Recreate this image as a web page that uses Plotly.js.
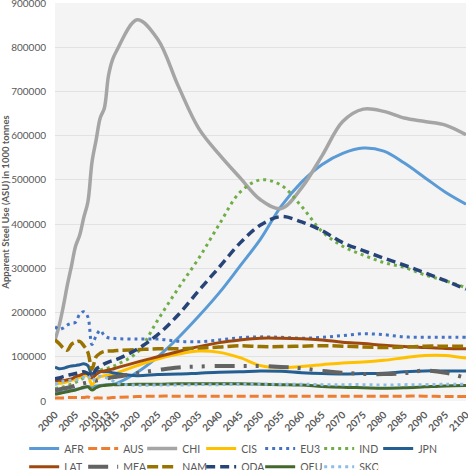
<!DOCTYPE html>
<html>
<head>
<meta charset="utf-8">
<script src="https://cdn.plot.ly/plotly-3.0.1.min.js"></script>
<style>html,body{margin:0;padding:0;background:#fff;}#chart{width:468px;height:470px;}</style>
</head>
<body>
<div id="chart"></div>
<script>
// Years (yearly history, then 5-year projections)
var years = [2000,2001,2002,2003,2004,2005,2006,2007,2008,2009,2010,2011,2012,2013,2014,2015,
             2020,2025,2030,2035,2040,2045,2050,2055,2060,2065,2070,2075,2080,2085,2090,2095,2100];

// Apparent Steel Use, 1000 tonnes
var AFR = [18000,19000,20000,22000,24000,26000,28000,30000,33000,32000,34000,35000,36000,37000,38000,40000,
           65000,100000,143000,192000,245000,305000,366000,440000,495000,535000,560000,572000,565000,538000,505000,472000,445000];
var AUS = [7000,7000,7000,8000,8000,8000,8000,8000,9000,6000,7000,7000,7000,7000,8000,8000,
           10000,11000,11000,11000,11000,11000,11000,11000,11000,11000,11000,11000,11000,11000,11000,10000,10000];
var CHI = [138000,170000,213000,262000,305000,350000,375000,415000,450000,540000,590000,640000,662000,735000,772000,792000,
           862000,818000,712000,616000,557000,505000,455000,435000,482000,555000,632000,660000,655000,640000,632000,624000,602000];
var CIS = [38000,40000,41000,44000,47000,50000,54000,58000,57000,36000,48000,55000,57000,58000,60000,63000,
           80000,95000,106000,113000,110000,98000,80000,75000,78000,82000,86000,88000,92000,98000,103000,103000,97000];
var EU3 = [168000,162000,165000,172000,176000,178000,196000,202000,190000,128000,147000,160000,148000,143000,142000,141000,
           140000,140000,135000,134000,138000,143000,145000,144000,142000,144000,148000,152000,150000,145000,144000,144000,144000];
var IND = [28000,30000,32000,35000,38000,42000,47000,52000,56000,60000,66000,70000,73000,75000,78000,82000,
           110000,183000,255000,323000,400000,472000,500000,488000,440000,383000,350000,330000,313000,302000,285000,272000,256000];
var JPN = [77000,73000,74000,77000,79000,80000,82000,84000,80000,60000,68000,67000,66000,66000,64000,62000,
           57000,60000,61000,63000,65000,66000,68000,67000,64000,62000,61000,62000,63000,66000,68000,68000,68000];
var LAT = [45000,47000,46000,48000,50000,55000,58000,62000,63000,52000,60000,66000,68000,70000,72000,75000,
           88000,100000,112000,123000,132000,138000,142000,142000,141000,138000,133000,130000,126000,123000,121000,119000,118000];
var MEA = [24000,26000,28000,30000,32000,35000,38000,40000,42000,44000,46000,48000,50000,52000,54000,55000,
           63000,70000,76000,78000,79000,79000,79000,77000,74000,68000,64000,61000,61000,63000,69000,64000,52000];
var NAM = [138000,130000,120000,115000,128000,133000,135000,125000,110000,72000,100000,108000,112000,113000,113000,114000,
           116000,118000,118000,120000,122000,125000,123000,123000,124000,125000,124000,122000,121000,122000,124000,124000,124000];
var ODA = [50000,52000,55000,58000,60000,62000,64000,66000,62000,56000,72000,78000,84000,88000,91000,94000,
           117000,150000,195000,250000,303000,357000,398000,417000,405000,385000,358000,340000,323000,307000,290000,272000,253000];
var OEU = [15000,17000,19000,21000,23000,25000,28000,31000,32000,25000,30000,34000,35000,36000,37000,37000,
           38000,38000,39000,39000,39000,39000,38000,37000,36000,33000,31000,30000,29000,30000,32000,34000,35000];
var SKO = [38000,40000,44000,46000,47000,47000,50000,54000,57000,45000,53000,56000,54000,51000,46000,40000,
           36000,36000,36000,37000,37000,38000,38000,38000,38000,37000,37000,37000,36000,37000,37000,38000,38000];

var regionNames = ['AFR','AUS','CHI','CIS','EU3','IND','JPN','LAT','MEA','NAM','ODA','OEU','SKO'];
var regionValues = [AFR,AUS,CHI,CIS,EU3,IND,JPN,LAT,MEA,NAM,ODA,OEU,SKO];

// x tick labels
var tickYears = [2000,2005,2010,2013,2015,2020,2025,2030,2035,2040,2045,2050,2055,2060,2065,2070,2075,2080,2085,2090,2095,2100];

var styles = {
  AFR: {color:'#5B9BD5', width:3, dash:'solid'},
  AUS: {color:'#ED7D31', width:3, dash:'9px,4px'},
  CHI: {color:'#A5A5A5', width:3.5, dash:'solid'},
  CIS: {color:'#FFC000', width:3, dash:'solid'},
  EU3: {color:'#4472C4', width:3, dash:'3px,4px'},
  IND: {color:'#70AD47', width:3, dash:'3px,4px'},
  JPN: {color:'#255E91', width:3, dash:'solid'},
  LAT: {color:'#9E480E', width:3, dash:'solid'},
  MEA: {color:'#636363', width:4, dash:'20px,9px,3px,9px,3px,10px'},
  NAM: {color:'#997300', width:3.5, dash:'11px,4px'},
  ODA: {color:'#264478', width:3.5, dash:'9px,5px'},
  OEU: {color:'#43682B', width:3, dash:'solid'},
  SKO: {color:'#8FBCE6', width:3, dash:'3px,4px'}
};

var traces = regionNames.map(function(name, i) {
  return {
    x: years,
    y: regionValues[i],
    name: name,
    type: 'scatter',
    mode: 'lines',
    line: {color: styles[name].color, width: styles[name].width, dash: styles[name].dash, shape: 'spline', smoothing: 1},
    legend: i < 7 ? 'legend' : 'legend2',
    hoverinfo: 'x+y+name'
  };
});

var fontFam = 'Lato, "Open Sans", "DejaVu Sans", sans-serif';
var legendBase = {
  orientation: 'h', xanchor: 'left', yanchor: 'top', x: -0.075,
  font: {family: fontFam, size: 10.5, color: '#595959'},
  bgcolor: 'rgba(0,0,0,0)', entrywidth: 14, entrywidthmode: 'pixels',
  tracegroupgap: 0, itemwidth: 30
};

var layout = {
  width: 468, height: 470,
  margin: {l: 55, r: 2, t: 3, b: 69, autoexpand: false},
  paper_bgcolor: '#ffffff',
  plot_bgcolor: '#f4f4f4',
  font: {family: fontFam, color: '#595959'},
  showlegend: true,
  xaxis: {
    range: [2000, 2100], tickmode: 'array', tickvals: tickYears, ticktext: tickYears.map(String),
    tickangle: -45, showgrid: false, zeroline: false, showline: false, ticks: '',
    ticklabeloverflow: 'allow', ticklabelstandoff: 5,
    tickfont: {family: fontFam, size: 10, color: '#595959', weight: 'bold'}
  },
  xaxis2: {
    range: [2000, 2100], overlaying: 'x', anchor: 'y', side: 'bottom', tick0: 2000, dtick: 2.5,
    showgrid: true, gridcolor: '#e2e2e2', gridwidth: 1, showticklabels: false, ticks: '', zeroline: false, showline: false
  },
  yaxis: {
    range: [0, 900000], dtick: 100000, tickformat: 'd', showgrid: true, gridcolor: '#e2e2e2', gridwidth: 1,
    zeroline: false, showline: false, ticks: '', ticklabelstandoff: 8, ticklabeloverflow: 'allow',
    tickfont: {family: fontFam, size: 10, color: '#595959'},
    title: {text: 'Apparent Steel Use (ASU) in 1000 tonnes', standoff: 4,
            font: {family: fontFam, size: 9.5, color: '#595959', weight: 'bold'}}
  },
  legend: Object.assign({}, legendBase, {y: -0.083}),
  legend2: Object.assign({}, legendBase, {y: -0.129})
};

Plotly.newPlot('chart', traces, layout, {displayModeBar: false, staticPlot: true});
</script>
</body>
</html>
